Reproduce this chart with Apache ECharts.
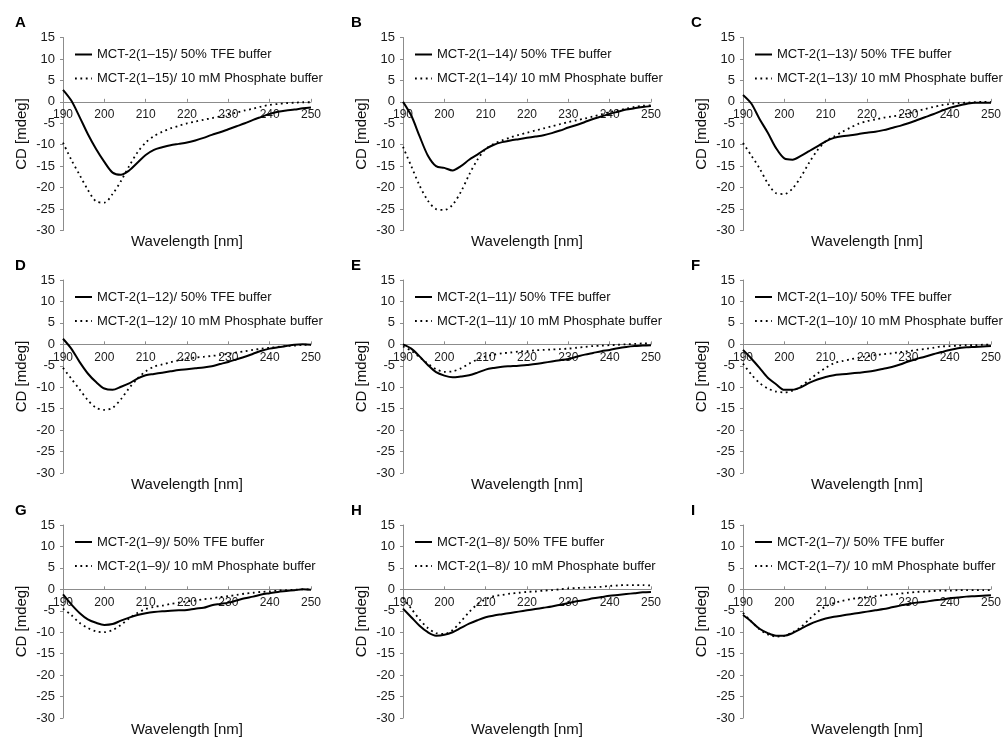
<!DOCTYPE html>
<html>
<head>
<meta charset="utf-8">
<script src="https://cdn.jsdelivr.net/npm/echarts@6/dist/echarts.min.js"></script>
<style>
html,body{margin:0;padding:0;background:#fff;}
#chart{width:1004px;height:738px;}
</style>
</head>
<body>
<div id="chart"></div>
<script>
// Wavelength sampling (nm)
const wavelengths = [190,192,194,196,198,200,202,204,206,208,210,212,214,216,218,220,222,224,226,228,230,232,234,236,238,240,242,244,246,248,250];
const xTicks = [190,200,210,220,230,240,250];
const yTicks = [15,10,5,0,-5,-10,-15,-20,-25,-30];

const panelLetters = ['A','B','C','D','E','F','G','H','I'];
const peptides = ['1–15','1–14','1–13','1–12','1–11','1–10','1–9','1–8','1–7'];

// 50% TFE buffer (solid) and 10 mM phosphate buffer (dotted), CD in mdeg
const A_tfe = [2.8,0.3,-3.5,-7.5,-11,-14,-16.5,-17,-16,-14.2,-12.4,-11.2,-10.6,-10.1,-9.8,-9.5,-9,-8.4,-7.7,-7.1,-6.4,-5.7,-5,-4.2,-3.5,-2.8,-2.3,-2,-1.8,-1.5,-1.3];
const A_pho = [-9.5,-13.5,-17,-20.5,-23.2,-23.5,-21.5,-18.5,-15,-11.8,-9.5,-8,-7,-6.2,-5.6,-5,-4.6,-4.2,-3.8,-3.4,-3,-2.5,-2,-1.6,-1.1,-0.7,-0.5,-0.3,-0.2,-0.1,-0.1];
const B_tfe = [0,-3.2,-8,-12.5,-15,-15.4,-16,-15,-13.5,-12.3,-11,-10,-9.4,-9,-8.7,-8.4,-8.1,-7.8,-7.3,-6.7,-6,-5.4,-4.7,-4,-3.4,-2.8,-2.3,-1.8,-1.5,-1.2,-1];
const B_pho = [-10.5,-15,-19.5,-23,-25,-25.2,-24,-21,-17,-13.5,-11,-9.8,-9,-8.3,-7.7,-7.2,-6.7,-6.2,-5.7,-5.2,-4.7,-4.3,-3.9,-3.4,-2.9,-2.4,-2,-1.6,-1.2,-0.9,-0.8];
const C_tfe = [1.6,-0.4,-4,-7.2,-10.8,-13.2,-13.5,-12.6,-11.5,-10.4,-9.2,-8.4,-8,-7.8,-7.5,-7.2,-7,-6.6,-6.1,-5.6,-5,-4.3,-3.6,-2.9,-2.1,-1.4,-0.9,-0.5,-0.2,-0.2,-0.2];
const C_pho = [-9.6,-12.5,-15.5,-19,-21.3,-21.5,-20.2,-17.5,-14.2,-11.3,-9.2,-8.1,-7,-6,-5.1,-4.5,-4.1,-3.7,-3.4,-3.1,-2.7,-2.2,-1.7,-1.2,-0.8,-0.5,-0.3,-0.2,-0.1,0,0];
const D_tfe = [1.3,-1,-4.1,-6.8,-8.8,-10.3,-10.6,-9.9,-9.1,-8,-7.2,-6.9,-6.6,-6.3,-6,-5.8,-5.6,-5.4,-5.1,-4.6,-4.1,-3.5,-2.9,-2.2,-1.5,-1,-0.7,-0.4,-0.1,0,-0.1];
const D_pho = [-5.5,-8,-10.5,-13,-14.8,-15.3,-14.8,-12.8,-10.2,-8,-6.3,-5.2,-4.7,-4.2,-3.7,-3.3,-3.1,-2.9,-2.7,-2.5,-2.2,-1.9,-1.6,-1.3,-1,-0.8,-0.6,-0.4,-0.3,-0.1,-0.1];
const E_tfe = [0,-1,-2.8,-4.8,-6.5,-7.3,-7.7,-7.5,-7.2,-6.6,-5.9,-5.5,-5.2,-5.1,-5,-4.8,-4.6,-4.3,-4,-3.7,-3.4,-2.9,-2.4,-2,-1.6,-1.3,-0.9,-0.6,-0.4,-0.3,-0.2];
const E_pho = [-0.5,-1.5,-3,-4.5,-5.8,-6.4,-6.3,-5.6,-4.5,-3.5,-2.8,-2.4,-2.1,-1.9,-1.7,-1.6,-1.4,-1.3,-1.2,-1.1,-1,-0.8,-0.6,-0.4,-0.3,-0.2,-0.1,0,0.1,0.2,0.2];
const F_tfe = [-1.3,-3.3,-5.5,-7.8,-9.3,-10.6,-10.6,-10,-9,-8.2,-7.6,-7.2,-7,-6.8,-6.6,-6.4,-6.1,-5.7,-5.3,-4.7,-4,-3.4,-2.9,-2.3,-1.8,-1.3,-0.9,-0.7,-0.6,-0.5,-0.4];
const F_pho = [-4.5,-7,-9,-10.3,-11,-11.2,-10.8,-9.8,-8.3,-6.8,-5.5,-4.4,-3.9,-3.5,-3.1,-2.8,-2.5,-2.3,-2.1,-1.8,-1.6,-1.3,-1.1,-0.8,-0.5,-0.4,-0.3,-0.2,-0.2,-0.1,-0.1];
const G_tfe = [-1.2,-3.5,-5.5,-7,-7.8,-8.3,-8.1,-7.3,-6.6,-6,-5.6,-5.3,-5.1,-5,-4.9,-4.8,-4.5,-4.3,-3.7,-3.4,-3.1,-2.6,-2.1,-1.7,-1.2,-0.9,-0.6,-0.4,-0.2,0,-0.1];
const G_pho = [-4.5,-6,-7.8,-9,-9.8,-10,-9.5,-8.3,-6.8,-5.5,-4.6,-4.1,-3.8,-3.4,-3.1,-2.8,-2.6,-2.3,-2.1,-1.8,-1.6,-1.3,-1,-0.8,-0.6,-0.5,-0.3,-0.2,-0.1,0,0];
const H_tfe = [-4.5,-6.5,-8.5,-10,-10.8,-10.6,-10,-9,-8,-7.2,-6.5,-6.1,-5.8,-5.5,-5.2,-4.9,-4.6,-4.3,-4,-3.6,-3.2,-2.8,-2.5,-2.1,-1.8,-1.5,-1.3,-1.1,-0.9,-0.7,-0.6];
const H_pho = [-2,-4.5,-7,-9,-10.2,-10.4,-9.5,-7.5,-5.3,-3.5,-2.3,-1.6,-1.3,-1,-0.8,-0.6,-0.5,-0.3,-0.2,0,0.2,0.3,0.4,0.5,0.6,0.8,0.9,1,1,1,0.9];
const I_tfe = [-6,-7.5,-9.2,-10.2,-10.8,-10.8,-10.2,-9.2,-8.2,-7.4,-6.8,-6.4,-6.1,-5.8,-5.5,-5.2,-4.9,-4.6,-4.2,-3.8,-3.4,-3.1,-2.9,-2.6,-2.4,-2.1,-1.9,-1.7,-1.6,-1.5,-1.4];
const I_pho = [-5.5,-7.5,-9.3,-10.5,-11,-10.8,-10,-8.8,-7,-5.3,-4,-3.2,-2.7,-2.3,-2,-1.8,-1.6,-1.4,-1.2,-1,-0.8,-0.6,-0.5,-0.4,-0.3,-0.3,-0.2,-0.2,-0.2,-0.2,-0.2];

const tfeSets = [A_tfe,B_tfe,C_tfe,D_tfe,E_tfe,F_tfe,G_tfe,H_tfe,I_tfe];
const phoSets = [A_pho,B_pho,C_pho,D_pho,E_pho,F_pho,G_pho,H_pho,I_pho];

const FONT = '"Liberation Sans", Arial, Helvetica, sans-serif';
const colLeft = [63, 403, 743];
const letterLeft = [10, 346, 686];
const rowTop = [37.5, 280, 525];
const gridW = 248, gridH = 193;
// x tick labels sit just under the zero line (zero is 15/45 of the way down the grid)
const zeroFromBottom = gridH * 30 / 45;

const grids = [], xAxes = [], yAxes = [], series = [], legends = [], titles = [];
for (let i = 0; i < 9; i++) {
  const r = Math.floor(i / 3), c = i % 3;
  const left = colLeft[c], top = rowTop[r];
  grids.push({left: left, top: top, width: gridW, height: gridH, containLabel: false, outerBoundsMode: 'none'});
  xAxes.push({
    gridIndex: i, type: 'value', min: xTicks[0], max: xTicks[xTicks.length-1], interval: 10,
    name: 'Wavelength [nm]', nameLocation: 'middle', nameGap: 4,
    nameTextStyle: {fontFamily: FONT, fontSize: 15, color: '#111', verticalAlign: 'top'},
    axisLine: {onZero: true, lineStyle: {color: '#8c8c8c', width: 1}},
    axisTick: {show: true, inside: true, length: 3, lineStyle: {color: '#8c8c8c'}},
    axisLabel: {fontFamily: FONT, fontSize: 12, color: '#1a1a1a', margin: 7 - zeroFromBottom, hideOverlap: false},
    splitLine: {show: false}
  });
  yAxes.push({
    gridIndex: i, type: 'value', min: yTicks[yTicks.length-1], max: yTicks[0], interval: 5,
    name: 'CD [mdeg]', nameLocation: 'middle', nameGap: 34,
    nameTextStyle: {fontFamily: FONT, fontSize: 15, color: '#111'},
    axisLine: {show: true, onZero: false, lineStyle: {color: '#8c8c8c', width: 1}},
    axisTick: {show: true, length: 3, lineStyle: {color: '#8c8c8c'}},
    axisLabel: {fontFamily: FONT, fontSize: 13, color: '#1a1a1a', margin: 8},
    splitLine: {show: false}
  });
  const nTfe = 'MCT-2(' + peptides[i] + ')/ 50% TFE buffer';
  const nPho = 'MCT-2(' + peptides[i] + ')/ 10 mM Phosphate buffer';
  series.push({
    name: nTfe, type: 'line', xAxisIndex: i, yAxisIndex: i, symbol: 'none', smooth: 0.3,
    data: wavelengths.map((w, j) => [w, tfeSets[i][j]]),
    lineStyle: {color: '#000', width: 2}, itemStyle: {color: '#000'}, z: 3
  });
  series.push({
    name: nPho, type: 'line', xAxisIndex: i, yAxisIndex: i, symbol: 'none', smooth: 0.3,
    data: wavelengths.map((w, j) => [w, phoSets[i][j]]),
    lineStyle: {color: '#000', width: 1.8, type: [1.8, 3.6]}, itemStyle: {color: '#000'}, z: 2
  });
  legends.push({
    data: [nTfe, nPho], orient: 'vertical', left: left + 6, top: top + 5.5,
    itemWidth: 17, itemHeight: 14, itemGap: 11, selectedMode: false,
    itemStyle: {opacity: 0},
    textStyle: {fontFamily: FONT, fontSize: 13, color: '#111'}
  });
  titles.push({
    text: panelLetters[i], left: letterLeft[c], top: top - 27,
    textStyle: {fontFamily: FONT, fontSize: 15, fontWeight: 'bold', color: '#000'}
  });
}

const chart = echarts.init(document.getElementById('chart'), null, {renderer: 'canvas'});
chart.setOption({
  animation: false,
  backgroundColor: '#fff',
  title: titles,
  grid: grids,
  xAxis: xAxes,
  yAxis: yAxes,
  legend: legends,
  series: series
});
</script>
</body>
</html>
